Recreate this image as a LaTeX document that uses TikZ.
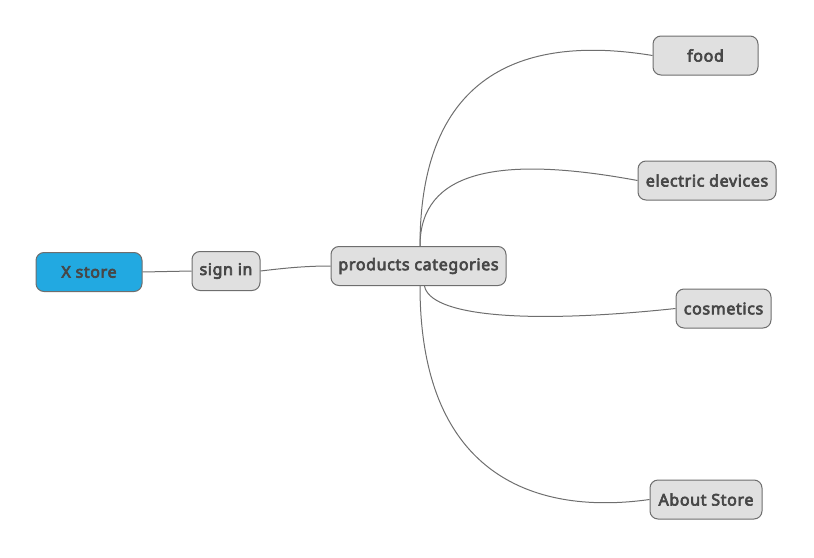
\documentclass[tikz,border=0pt]{standalone}
\usepackage{fontspec}
\setmainfont{Noto Sans}[BoldFont={Noto Sans},BoldFeatures={FakeBold=4,LetterSpace=4}]
\usetikzlibrary{calc}
\definecolor{txt}{HTML}{474747}
\definecolor{edge}{HTML}{6E6E6E}
\definecolor{boxfill}{HTML}{E0E0E0}
\definecolor{rootfill}{HTML}{22A9E1}
\tikzset{
  topic/.style={draw=edge, line width=1pt, fill=boxfill, rounded corners=8pt,
    minimum height=39pt, inner xsep=7pt, text=txt, font=\bfseries\fontsize{16}{18}\selectfont},
  roottopic/.style={topic, fill=rootfill},
  link/.style={draw=edge, line width=1pt}
}
\begin{document}
\begin{tikzpicture}[x=1pt,y=-1pt]
\useasboundingbox (0,0) rectangle (814,557);
\node[roottopic, minimum width=106pt] (x) at (89,272) {X store};
\node[topic, minimum width=68pt] (s) at (226,271) {sign in};
\node[topic, minimum width=175pt] (p) at (418.5,266) {products categories};
\node[topic, minimum width=105pt] (f) at (705.5,55.5) {food};
\node[topic, minimum width=138pt] (e) at (707,180.5) {electric devices};
\node[topic, minimum width=95pt] (c) at (723.5,308.5) {cosmetics};
\node[topic, minimum width=112pt] (a) at (706,499.5) {About Store};
\draw[link] (x.east) -- (s.west);
\draw[link] (s.east) .. controls +(25,-3) and +(-25,0) .. (p.west);
\coordinate (pt) at ($(p.north)+(1.5,0)$);
\coordinate (pb) at ($(p.south)+(1.5,0)$);
\coordinate (pc) at ($(p.south)+(6,0)$);
\draw[link] (pt) .. controls (420,60) and (540,37) .. (f.west);
\draw[link] (pt) .. controls (420,170) and (500,155) .. (e.west);
\draw[link] (pc) .. controls (430,315) and (520,325) .. (c.west);
\draw[link] (pb) .. controls (420,480) and (540,515) .. (a.west);
\end{tikzpicture}
\end{document}
